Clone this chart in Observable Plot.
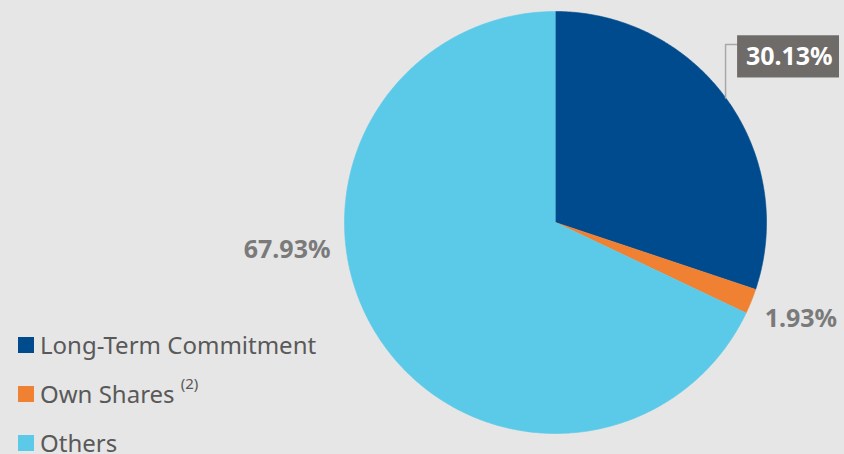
<!DOCTYPE html>
<html>
<head>
<meta charset="utf-8">
<script src="https://cdn.jsdelivr.net/npm/d3@7"></script>
<script src="https://cdn.jsdelivr.net/npm/@observablehq/plot@0.6"></script>
<style>
  html, body { margin: 0; padding: 0; background: #e6e6e6; }
  #wrap { position: relative; width: 844px; height: 454px; overflow: hidden; }
  #legend { position: absolute; left: 18px; top: 328px; font-family: "Noto Sans", sans-serif; font-size: 24px; color: #595959; }
  #legend .row { height: 49px; display: flex; align-items: flex-start; }
  #legend .sw { width: 16px; height: 16px; margin-top: 9px; margin-right: 6px; flex: none; }
  #legend sup { font-size: 15px; position: relative; top: -5px; margin-left: 6px; }
</style>
</head>
<body>
<div id="wrap"><div id="chart"></div><div id="legend"></div></div>
<script>
// ---- data ----
const categories = ["Long-Term Commitment", "Own Shares", "Others"];
const shares = [30.13, 1.93, 67.93];
const labels = ["30.13%", "1.93%", "67.93%"];
const legendNotes = ["", "(2)", ""];
const colors = ["#004b8d", "#f08132", "#5bc9e8"];

const W = 844, H = 454;
const cx = 555, cy = 222, R = 211;

const pie = d3.pie().sort(null).value(d => d.value)(categories.map((c, i) => ({cat: c, value: shares[i]})));

// polygon points per slice (unit circle, angle clockwise from top)
const pts = [];
pie.forEach(s => {
  const n = Math.max(4, Math.ceil((s.endAngle - s.startAngle) / 0.01));
  pts.push({cat: s.data.cat, x: 0, y: 0});
  for (let k = 0; k <= n; k++) {
    const a = s.startAngle + (s.endAngle - s.startAngle) * k / n;
    pts.push({cat: s.data.cat, x: Math.sin(a), y: Math.cos(a)});
  }
});

// label layout (unit coordinates)
const labelPos = [
  {x: 1.108, y: 0.785, inBox: true},
  {x: 1.163, y: -0.457, inBox: false},
  {x: -1.272, y: -0.128, inBox: false}
];
const labelData = labels.map((t, i) => ({text: t, ...labelPos[i]}));
const boxed = labelData.filter(d => d.inBox);
const plain = labelData.filter(d => !d.inBox);
const leader = [{x: 0.867, y: 0.844}, {x: 0.806, y: 0.844}, {x: 0.806, y: 0.59}];

const xDomain = [-cx / R, (W - cx) / R];
const yDomain = [-(H - cy) / R, cy / R];

const chart = Plot.plot({
  width: W, height: H,
  margin: 0,
  x: {domain: xDomain, axis: null},
  y: {domain: yDomain, axis: null},
  color: {domain: categories, range: colors},
  style: {background: "#e6e6e6", fontFamily: "Noto Sans, sans-serif"},
  marks: [
    Plot.line(pts, {x: "x", y: "y", z: "cat", fill: "cat", stroke: "cat", strokeWidth: 0.6}),
    Plot.line(leader, {x: "x", y: "y", stroke: "#a8a8a8", strokeWidth: 1.5}),
    Plot.rect(boxed, {x1: d => d.x - 0.245, x2: d => d.x + 0.238, y1: d => d.y - 0.1, y2: d => d.y + 0.1, fill: "#6f6b69"}),
    Plot.text(boxed, {x: "x", y: "y", text: "text", fill: "#ffffff", fontSize: 25, fontWeight: "bold"}),
    Plot.text(plain, {x: "x", y: "y", text: "text", fill: "#7a7a7a", fontSize: 25, fontWeight: "bold"})
  ]
});
document.getElementById("chart").appendChild(chart);

const leg = d3.select("#legend");
categories.forEach((c, i) => {
  const row = leg.append("div").attr("class", "row");
  row.append("div").attr("class", "sw").style("background", colors[i]);
  const t = row.append("span").text(c);
  if (legendNotes[i]) t.append("sup").text(legendNotes[i]);
});
</script>
</body>
</html>
